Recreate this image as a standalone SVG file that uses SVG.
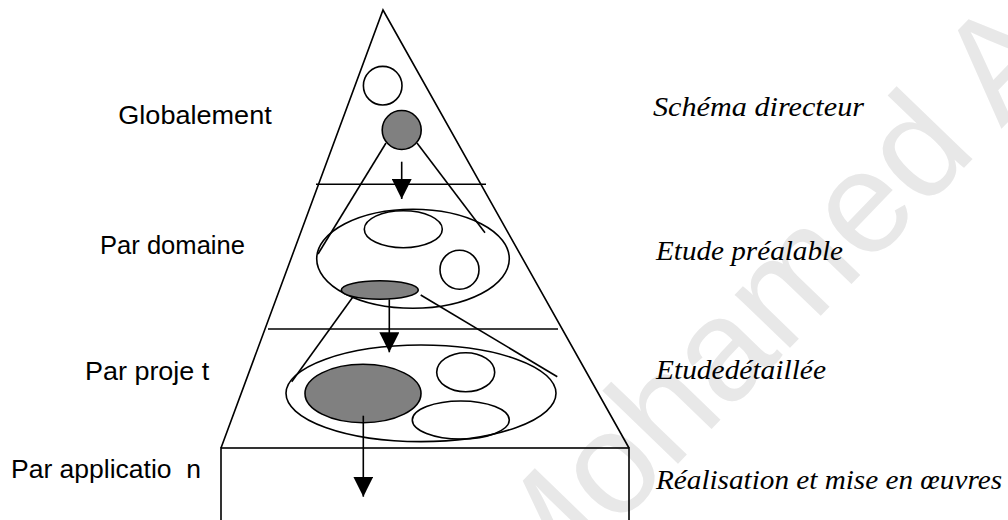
<svg xmlns="http://www.w3.org/2000/svg" width="1008" height="520" viewBox="0 0 1008 520">
<style>
  .ln { fill: none; stroke: #000; stroke-width: 1.6; }
  .wf { fill: #fff; stroke: #000; stroke-width: 1.6; }
  .gf { fill: #808080; stroke: #000; stroke-width: 1.6; }
  .lbl { font-family: "Liberation Sans", Arial, sans-serif; font-size: 25px; fill: #000; }
  .phase { font-family: "Liberation Serif", "Times New Roman", serif; font-style: italic; font-size: 28px; fill: #000; }
  .wm { font-family: "Liberation Sans", Arial, sans-serif; font-size: 145px; fill: #e8e8e8; }
</style>
<defs>
  <marker id="arr" markerUnits="userSpaceOnUse" viewBox="0 0 20 20" markerWidth="20" markerHeight="20" refX="20" refY="10" orient="auto">
    <path d="M0,0 L20,10 L0,20 z" fill="#000"/>
  </marker>
</defs>
<rect width="1008" height="520" fill="#fff"/>
<text class="wm" transform="translate(531,616) rotate(-46)">Mohamed A</text>

<g id="pyramid">
  <polyline class="ln" points="221,448 383,10 629,448"/>
  <rect class="ln" x="221" y="448" width="408" height="90"/>
  <line class="ln" x1="316" y1="184.3" x2="486" y2="184.3"/>
  <line class="ln" x1="268" y1="329" x2="558" y2="329"/>
</g>

<g id="level-global">
  <circle class="wf" cx="382.7" cy="85.7" r="19.3"/>
  <circle class="gf" cx="401.7" cy="130" r="19.5"/>
</g>

<g id="level-domaine">
  <ellipse class="ln" cx="413" cy="258.8" rx="96.3" ry="49.5"/>
  <ellipse class="ln" cx="403.3" cy="229.2" rx="39" ry="18.5"/>
  <circle class="ln" cx="459.5" cy="269.7" r="19.5"/>
  <ellipse class="gf" cx="379.8" cy="290" rx="38.5" ry="9.3"/>
</g>

<g id="level-projet">
  <ellipse class="ln" cx="421" cy="393.3" rx="135" ry="48.3"/>
  <ellipse class="gf" cx="363" cy="393.5" rx="58" ry="29.2"/>
  <ellipse class="ln" cx="465.7" cy="372.2" rx="29" ry="19.5"/>
  <ellipse class="ln" cx="460.8" cy="420" rx="48.5" ry="19"/>
</g>

<g id="connectors">
  <line class="ln" x1="386" y1="143" x2="318" y2="254"/>
  <line class="ln" x1="417" y1="143" x2="485" y2="232.7"/>
  <line class="ln" x1="401.7" y1="161.7" x2="401.7" y2="199" marker-end="url(#arr)"/>
  <line class="ln" x1="352.7" y1="297.3" x2="291.7" y2="381.7"/>
  <line class="ln" x1="420.7" y1="295" x2="557.3" y2="376.7"/>
  <line class="ln" x1="389.3" y1="299.3" x2="389.3" y2="352.3" marker-end="url(#arr)"/>
  <line class="ln" x1="363.3" y1="415.7" x2="363.3" y2="496.7" marker-end="url(#arr)"/>
</g>

<g id="labels-left">
  <text class="lbl" x="118.3" y="124.3" textLength="153.4" lengthAdjust="spacingAndGlyphs">Globalement</text>
  <text class="lbl" x="100" y="254.3" textLength="145" lengthAdjust="spacingAndGlyphs">Par domaine</text>
  <text class="lbl" x="85" y="380" textLength="124.3" lengthAdjust="spacingAndGlyphs">Par proje t</text>
  <text class="lbl" x="11" y="477.7" textLength="190" lengthAdjust="spacingAndGlyphs">Par applicatio&#160; n</text>
</g>

<g id="labels-right">
  <text class="phase" x="653" y="115.7" textLength="211" lengthAdjust="spacingAndGlyphs">Schéma directeur</text>
  <text class="phase" x="656" y="260" textLength="187" lengthAdjust="spacingAndGlyphs">Etude préalable</text>
  <text class="phase" x="656" y="379.3" textLength="170" lengthAdjust="spacingAndGlyphs">Etudedétaillée</text>
  <text class="phase" x="656" y="489" textLength="346" lengthAdjust="spacingAndGlyphs">Réalisation et mise en œuvres</text>
</g>
</svg>
